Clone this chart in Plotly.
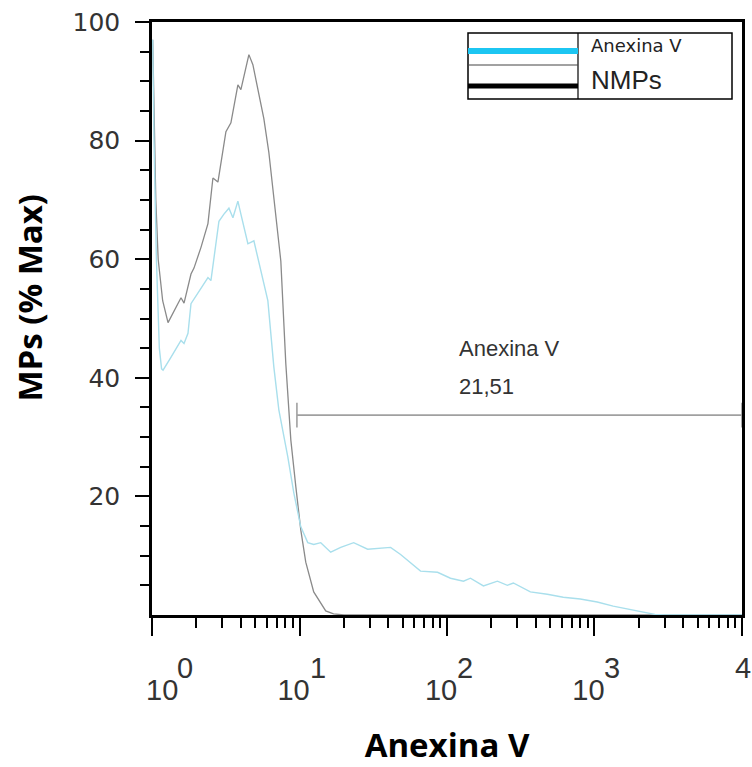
import math
import plotly.graph_objects as go

# ---------------- data ----------------
nmp_x = [1.01, 1.03, 1.06, 1.10, 1.18, 1.283, 1.409, 1.571, 1.647, 1.836, 1.924, 2.146, 2.393,
         2.586, 2.796, 2.930, 3.168, 3.425, 3.819, 4.002, 4.535, 4.826, 5.215, 5.728, 6.194,
         6.697, 7.466, 8.07, 8.32, 8.73, 9.44, 10.19, 11.02, 12.48, 15.05, 17.0, 20.0, 10000.0]
nmp_y = [97, 85, 70, 60, 53, 49.3, 51.3, 53.5, 52.6, 57.5, 58.5, 62, 66,
         73.7, 73, 76.5, 81.5, 83, 89.4, 88.6, 94.5, 92.8, 88.8, 83.7, 78,
         70.3, 59.7, 42.4, 36.7, 29.5, 21.6, 14.4, 8.9, 3.9, 0.7, 0.2, 0, 0]

anx_x = [1.01, 1.03, 1.07, 1.12, 1.16, 1.187, 1.345, 1.571, 1.647, 1.752, 1.836, 2.146, 2.393,
         2.507, 2.841, 3.071, 3.320, 3.534, 3.819, 4.002, 4.465, 4.902, 5.468, 6.097, 6.697,
         7.238, 8.32, 9.144, 10.19, 11.37, 12.48, 13.93, 16.27, 19.02, 23.29, 28.97, 41.46,
         48.45, 66.17, 86.25, 105.6, 129.3, 144.2, 176.6, 219.7, 256.7, 281.9, 367.5, 478.9,
         614.5, 801, 1044, 1339, 1829, 2040, 2570, 3000, 10000]
anx_y = [97, 80, 60, 45, 41.5, 41.3, 43.5, 46.3, 45.8, 47.5, 52.5, 55.2, 56.9,
         56.4, 66.4, 67.6, 68.6, 67, 69.8, 67.6, 62.6, 63.1, 58, 53, 41.8,
         34.6, 26.7, 20.6, 14.9, 12.2, 11.9, 12.2, 10.6, 11.4, 12.2, 11.1, 11.4,
         10.2, 7.4, 7.2, 6.2, 5.7, 6.2, 4.9, 5.7, 5.0, 5.4, 3.9, 3.5,
         3.0, 2.7, 2.2, 1.5, 0.8, 0.5, 0.1, 0, 0]

x_major = [1, 10, 100, 1000, 10000]
x_base_text = ["10", "10", "10", "10", "10"]
x_exponents = ["0", "1", "2", "3", "4"]
x_minor = [m * d for d in [1, 10, 100, 1000] for m in range(2, 10)]
y_major = [20, 40, 60, 80, 100]
y_minor = [v for v in range(5, 100, 5) if v % 20 != 0]

gate_lo, gate_hi, gate_y = 9.6, 10000.0, 33.7
gate_name, gate_pct = "Anexina V", "21,51"
legend_names = ["Anexina V", "NMPs"]
x_title, y_title = "Anexina V", "MPs (% Max)"

# ---------------- figure ----------------
LAB = "DejaVu Sans, Verdana, sans-serif"
TXT = "Liberation Sans, Arial, sans-serif"
title_font = dict(family="Open Sans, sans-serif", size=33, color="#000000", weight="bold")
xlab_size = 29
NB = "\u00a0"

# x tick text: centre shift of the end labels using non-breaking spaces
x_ticktext = []
for i, t in enumerate(x_base_text):
    if i == 0:
        t = NB * 4 + t
    elif i == len(x_base_text) - 1:
        t = t + NB * 4
    x_ticktext.append(t)

fig = go.Figure()
fig.add_trace(go.Scatter(x=nmp_x, y=nmp_y, mode="lines", name=legend_names[1],
                         line=dict(color="#8a8a8a", width=1.3), showlegend=False))
fig.add_trace(go.Scatter(x=anx_x, y=anx_y, mode="lines", name=legend_names[0],
                         line=dict(color="#a9dfec", width=1.4), showlegend=False))
# gate
cap = 2.1
fig.add_trace(go.Scatter(
    x=[gate_lo, gate_hi, None, gate_lo, gate_lo, None, gate_hi, gate_hi],
    y=[gate_y, gate_y, None, gate_y - cap, gate_y + cap, None, gate_y - cap, gate_y + cap],
    mode="lines", line=dict(color="#a0a0a0", width=1.6), showlegend=False, hoverinfo="skip"))

fig.add_annotation(x=2.07, y=44.9, xref="x", yref="y", text=gate_name,
                   showarrow=False, xanchor="left", yanchor="middle",
                   font=dict(family=TXT, size=22, color="#333333"))
fig.add_annotation(x=2.07, y=38.6, xref="x", yref="y", text=gate_pct,
                   showarrow=False, xanchor="left", yanchor="middle",
                   font=dict(family=TXT, size=22, color="#333333"))

# exponents of the x tick labels (same size as the base, raised)
n = len(x_major)
for i, (v, e) in enumerate(zip(x_major, x_exponents)):
    shift = 18
    if i == 0:
        shift = 33
    elif i == n - 1:
        shift = 1
    fig.add_annotation(x=math.log10(v), y=0, xref="x", yref="paper", text=e,
                       showarrow=False, xanchor="center", yanchor="top",
                       xshift=shift, yshift=-35,
                       font=dict(family=TXT, size=xlab_size, color="#333333"))

# y axis title
fig.add_annotation(x=-0.207, y=0.535, xref="paper", yref="paper", text=y_title,
                   showarrow=False, textangle=-90, xanchor="center", yanchor="middle",
                   font=title_font)

# custom legend box (paper coordinates)
def px2x(px):
    return (px - 152) / 590.0

def py2y(py):
    return (615 - py) / 593.0

shapes = [
    dict(type="rect", xref="paper", yref="paper", x0=px2x(468), x1=px2x(732),
         y0=py2y(99), y1=py2y(33), line=dict(color="#000000", width=1.5), fillcolor="white"),
    dict(type="line", xref="paper", yref="paper", x0=px2x(578), x1=px2x(578),
         y0=py2y(99), y1=py2y(33), line=dict(color="#000000", width=1.2)),
    dict(type="line", xref="paper", yref="paper", x0=px2x(468), x1=px2x(578),
         y0=py2y(65), y1=py2y(65), line=dict(color="#444444", width=1)),
    dict(type="line", xref="paper", yref="paper", x0=px2x(468), x1=px2x(578),
         y0=py2y(51), y1=py2y(51), line=dict(color="#1cc6f2", width=6)),
    dict(type="line", xref="paper", yref="paper", x0=px2x(468), x1=px2x(578),
         y0=py2y(86), y1=py2y(86), line=dict(color="#000000", width=5)),
]
fig.add_annotation(x=px2x(589), y=py2y(46), xref="paper", yref="paper", text=legend_names[0],
                   showarrow=False, xanchor="left", yanchor="middle",
                   font=dict(family=LAB, size=18, color="#222222"))
fig.add_annotation(x=px2x(589), y=py2y(80), xref="paper", yref="paper", text=legend_names[1],
                   showarrow=False, xanchor="left", yanchor="middle",
                   font=dict(family=TXT, size=26, color="#222222"))

fig.update_layout(
    width=752, height=767,
    margin=dict(l=152, r=10, t=22, b=152),
    paper_bgcolor="white", plot_bgcolor="white",
    shapes=shapes,
    showlegend=False,
)
fig.update_xaxes(
    type="log", range=[-0.0005, 4.0005], automargin=False,
    showline=True, linecolor="#000000", linewidth=2.5, mirror=True,
    showgrid=False, zeroline=False,
    tickmode="array", tickvals=x_major, ticktext=x_ticktext,
    ticks="outside", ticklen=18, tickwidth=2, tickcolor="#000000",
    ticklabelstandoff=29, ticklabelshift=-6,
    tickfont=dict(family=TXT, size=xlab_size, color="#333333"),
    minor=dict(tickmode="array", tickvals=x_minor, ticks="outside", ticklen=10,
               tickwidth=1.6, tickcolor="#000000", showgrid=False),
    title=dict(text=x_title, font=title_font, standoff=39),
)
fig.update_yaxes(
    range=[0, 100], automargin=False,
    showline=True, linecolor="#000000", linewidth=2.5, mirror=True,
    showgrid=False, zeroline=False,
    tickmode="array", tickvals=y_major,
    ticks="outside", ticklen=14, tickwidth=1.6, tickcolor="#000000",
    ticklabelstandoff=10,
    tickfont=dict(family=LAB, size=25, color="#333333"),
    minor=dict(tickmode="array", tickvals=y_minor, ticks="outside", ticklen=9,
               tickwidth=1.6, tickcolor="#000000", showgrid=False),
)

fig.write_html("out.html", config={"displayModeBar": False},
               post_script="document.body.style.margin='0';")
